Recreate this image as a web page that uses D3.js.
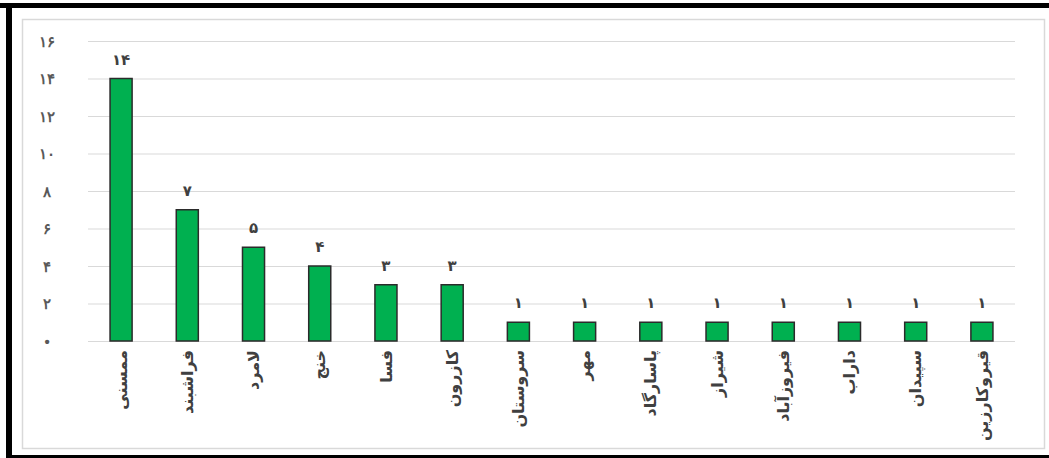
<!DOCTYPE html>
<html>
<head>
<meta charset="utf-8">
<script src="https://cdn.jsdelivr.net/npm/d3@7"></script>
<style>
  body { margin: 0; background: #fff; }
  svg { display: block; font-family: "DejaVu Sans", sans-serif; }
</style>
</head>
<body>
<svg id="chart" width="1049" height="458"></svg>
<script>
// شهرستان‌ها و تعداد
const categories = ["ممسنی", "فراشبند", "لامرد", "خنج", "فسا", "کازرون", "سروستان",
  "مهر", "پاسارگاد", "شیراز", "فیروزآباد", "داراب", "سپیدان", "قیروکارزین"];
const values = [14, 7, 5, 4, 3, 3, 1, 1, 1, 1, 1, 1, 1, 1];
const yTicks = [0, 2, 4, 6, 8, 10, 12, 14, 16];

const faDigits = (n) => String(n).replace(/\d/g, (c) => "۰۱۲۳۴۵۶۷۸۹"[c]);
const tickFmt = (d) => (d === 0 ? "•" : faDigits(d));

const width = 1049, height = 458;
const margin = { top: 41, right: 34, bottom: 117, left: 88 },
  chart_width = width - margin.left - margin.right,
  chart_height = height - margin.top - margin.bottom;

const root = d3.select("#chart");

// Marco exterior
root.append("rect").attr("x", 0).attr("y", 3).attr("width", width).attr("height", 5).attr("fill", "#000");
root.append("rect").attr("x", 6).attr("y", 3).attr("width", 6).attr("height", 455).attr("fill", "#000");
root.append("rect").attr("x", 6).attr("y", 455).attr("width", width - 6).attr("height", 3).attr("fill", "#000");
root.append("rect")
  .attr("x", 22.5).attr("y", 19.5).attr("width", 1022).attr("height", 429)
  .attr("fill", "none").attr("stroke", "#d9d9d9").attr("stroke-width", 1.5);

const svg = root.append("g").attr("transform", `translate(${margin.left}, ${margin.top})`);

const x = d3.scaleBand().domain(categories).range([0, chart_width])
  .paddingInner(0.667).paddingOuter(0.333);
const y = d3.scaleLinear().domain([0, 16]).range([chart_height, 0]);

// Rejilla
svg.append("g")
  .selectAll("line")
  .data(yTicks)
  .join("line")
  .attr("x1", 0).attr("x2", chart_width)
  .attr("y1", (d) => y(d) + 0.5).attr("y2", (d) => y(d) + 0.5)
  .attr("stroke", "#d9d9d9").attr("stroke-width", 1);

// Eje Y
const yAxis = svg.append("g")
  .attr("transform", "translate(-38, 0)")
  .call(d3.axisLeft(y).tickValues(yTicks).tickFormat(tickFmt).tickSize(0));
yAxis.select(".domain").remove();
yAxis.selectAll("text")
  .attr("text-anchor", "middle")
  .attr("dy", "0.35em")
  .style("font-size", "15px")
  .style("font-weight", "bold")
  .attr("fill", "#595959");

// Barras
const bar = svg.selectAll(".bar").data(values).join("g").attr("class", "bar");
bar.append("rect")
  .attr("x", (d, i) => x(categories[i]))
  .attr("y", (d) => y(d))
  .attr("width", x.bandwidth())
  .attr("height", (d) => y(0) - y(d))
  .attr("fill", "#00b050")
  .attr("stroke", "#2b2b2b")
  .attr("stroke-width", 1.5);

bar.append("text")
  .attr("x", (d, i) => x(categories[i]) + x.bandwidth() / 2)
  .attr("y", (d) => y(d) - 14)
  .attr("text-anchor", "middle")
  .style("font-size", "15px")
  .style("font-weight", "bold")
  .attr("fill", "#404040")
  .text((d) => faDigits(d));

// Eje X (rótulos girados)
svg.append("g")
  .selectAll("text")
  .data(categories)
  .join("text")
  .attr("transform", (d) => `translate(${x(d) + x.bandwidth() / 2}, ${chart_height + 9}) rotate(-90)`)
  .attr("text-anchor", "end")
  .attr("dy", "0.35em")
  .style("font-size", "16px")
  .style("font-weight", "bold")
  .attr("fill", "#404040")
  .text((d) => d);
</script>
</body>
</html>
